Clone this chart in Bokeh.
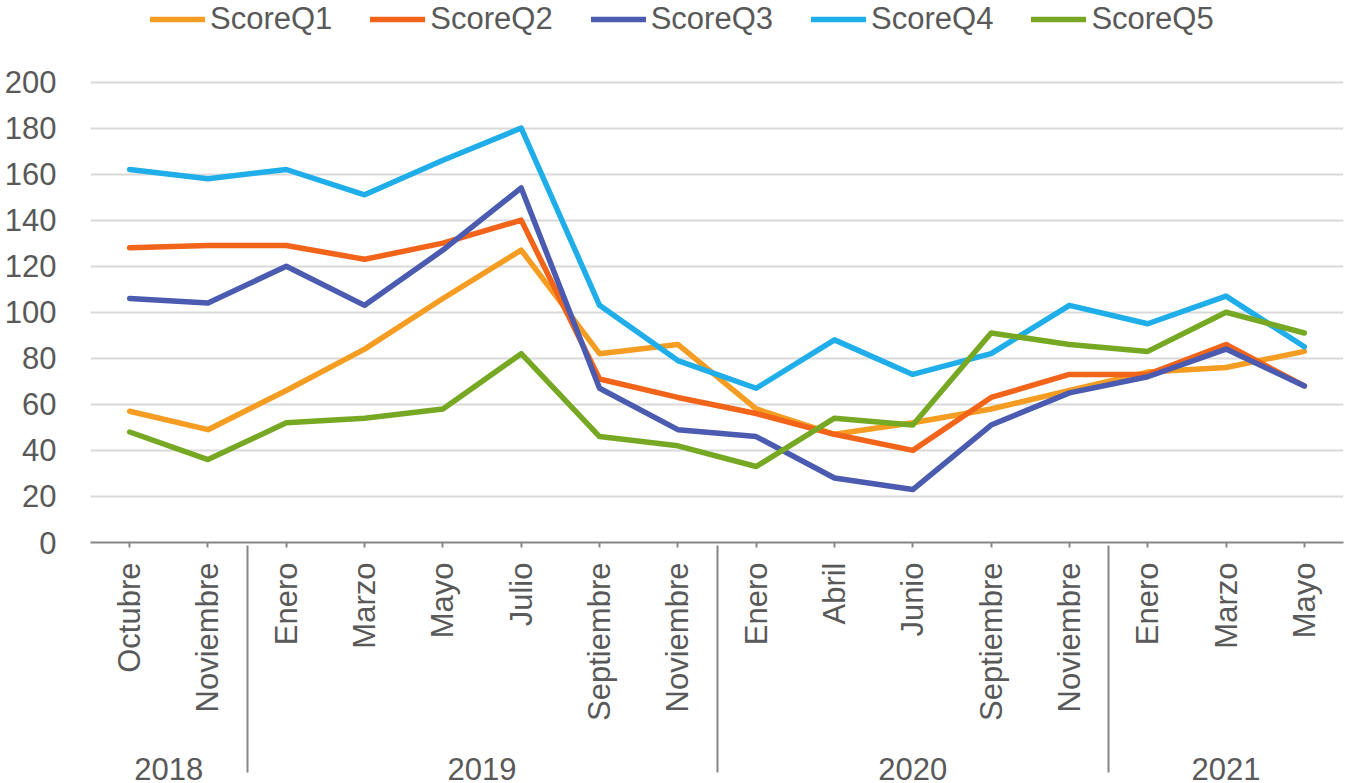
from bokeh.plotting import figure
from bokeh.models import FactorRange, Range1d, Legend, LegendItem, ColumnDataSource, FixedTicker
from bokeh.embed import file_html
from bokeh.resources import INLINE
import math

years = ["2018", "2018", "2019", "2019", "2019", "2019", "2019", "2019",
         "2020", "2020", "2020", "2020", "2020", "2021", "2021", "2021"]
months = ["Octubre", "Noviembre", "Enero", "Marzo", "Mayo", "Julio", "Septiembre", "Noviembre",
          "Enero", "Abril", "Junio", "Septiembre", "Noviembre", "Enero", "Marzo", "Mayo"]

score_q1 = [57, 49, 66, 84, 106, 127, 82, 86, 58, 47, 52, 58, 66, 74, 76, 83]
score_q2 = [128, 129, 129, 123, 130, 140, 71, 63, 56, 47, 40, 63, 73, 73, 86, 68]
score_q3 = [106, 104, 120, 103, 127, 154, 67, 49, 46, 28, 23, 51, 65, 72, 84, 68]
score_q4 = [162, 158, 162, 151, 166, 180, 103, 79, 67, 88, 73, 82, 103, 95, 107, 85]
score_q5 = [48, 36, 52, 54, 58, 82, 46, 42, 33, 54, 51, 91, 86, 83, 100, 91]

series_names = ["ScoreQ1", "ScoreQ2", "ScoreQ3", "ScoreQ4", "ScoreQ5"]
series_values = [score_q1, score_q2, score_q3, score_q4, score_q5]
colors = ["#F59D22", "#F26419", "#4A5BB0", "#1FAEE9", "#77A824"]
y_ticks = list(range(0, 201, 20))

# (year, blank spacer level, month)
factors = [(y, " ", m) for y, m in zip(years, months)]

FONT = "Liberation Sans"
TXT = "#595959"
FS = "31px"

# frame reaches the top of the canvas; headroom above 200 holds the legend
p = figure(width=1347, height=783, output_backend="svg", toolbar_location=None,
           x_range=FactorRange(*factors, factor_padding=0, subgroup_padding=0,
                               group_padding=0, range_padding=0),
           y_range=Range1d(0, 235.4),
           min_border_left=90, min_border_right=4, min_border_top=0, min_border_bottom=238)
p.outline_line_color = None
p.background_fill_color = "white"
p.border_fill_color = "white"

src = ColumnDataSource(dict(x=factors, **{n: v for n, v in zip(series_names, series_values)}))
renderers = []
for n, c in zip(series_names, colors):
    r = p.line(x="x", y=n, source=src, line_color=c, line_width=5.5, line_join="round", line_cap="round")
    renderers.append(r)

# y axis
p.yaxis.ticker = FixedTicker(ticks=y_ticks)
p.yaxis.axis_line_color = None
p.yaxis.major_tick_line_color = None
p.yaxis.minor_tick_line_color = None
p.yaxis.major_label_text_font = FONT
p.yaxis.major_label_text_font_size = FS
p.yaxis.major_label_text_color = TXT
p.yaxis.major_label_standoff = 28

p.ygrid.grid_line_color = "#D9D9D9"
p.ygrid.grid_line_width = 2
p.xgrid.grid_line_color = None

# x axis
xa = p.xaxis[0]
xa.axis_line_color = "#868686"
xa.axis_line_width = 2
xa.major_tick_line_color = "#868686"
xa.major_tick_line_width = 2
xa.major_tick_in = 0
xa.major_tick_out = 5
xa.major_label_orientation = math.pi / 2
xa.major_label_text_font = FONT
xa.major_label_text_font_size = FS
xa.major_label_text_color = TXT
xa.major_label_standoff = 15
xa.subgroup_text_font_size = "1px"
xa.subgroup_text_color = TXT
xa.group_text_font = FONT
xa.group_text_font_size = FS
xa.group_text_font_style = "normal"
xa.group_text_color = TXT
xa.group_label_orientation = "horizontal"
xa.separator_line_color = "#868686"
xa.separator_line_width = 2

legend = Legend(items=[LegendItem(label=n, renderers=[r]) for n, r in zip(series_names, renderers)],
                orientation="horizontal", location=(60, 505),
                label_text_font=FONT, label_text_font_size=FS, label_text_color=TXT,
                glyph_width=55, glyph_height=36, label_height=36, label_standoff=5,
                spacing=38, padding=0, margin=0, border_line_color=None,
                background_fill_alpha=0)
p.add_layout(legend, "center")

open("out.html", "w").write(file_html(p, INLINE))
